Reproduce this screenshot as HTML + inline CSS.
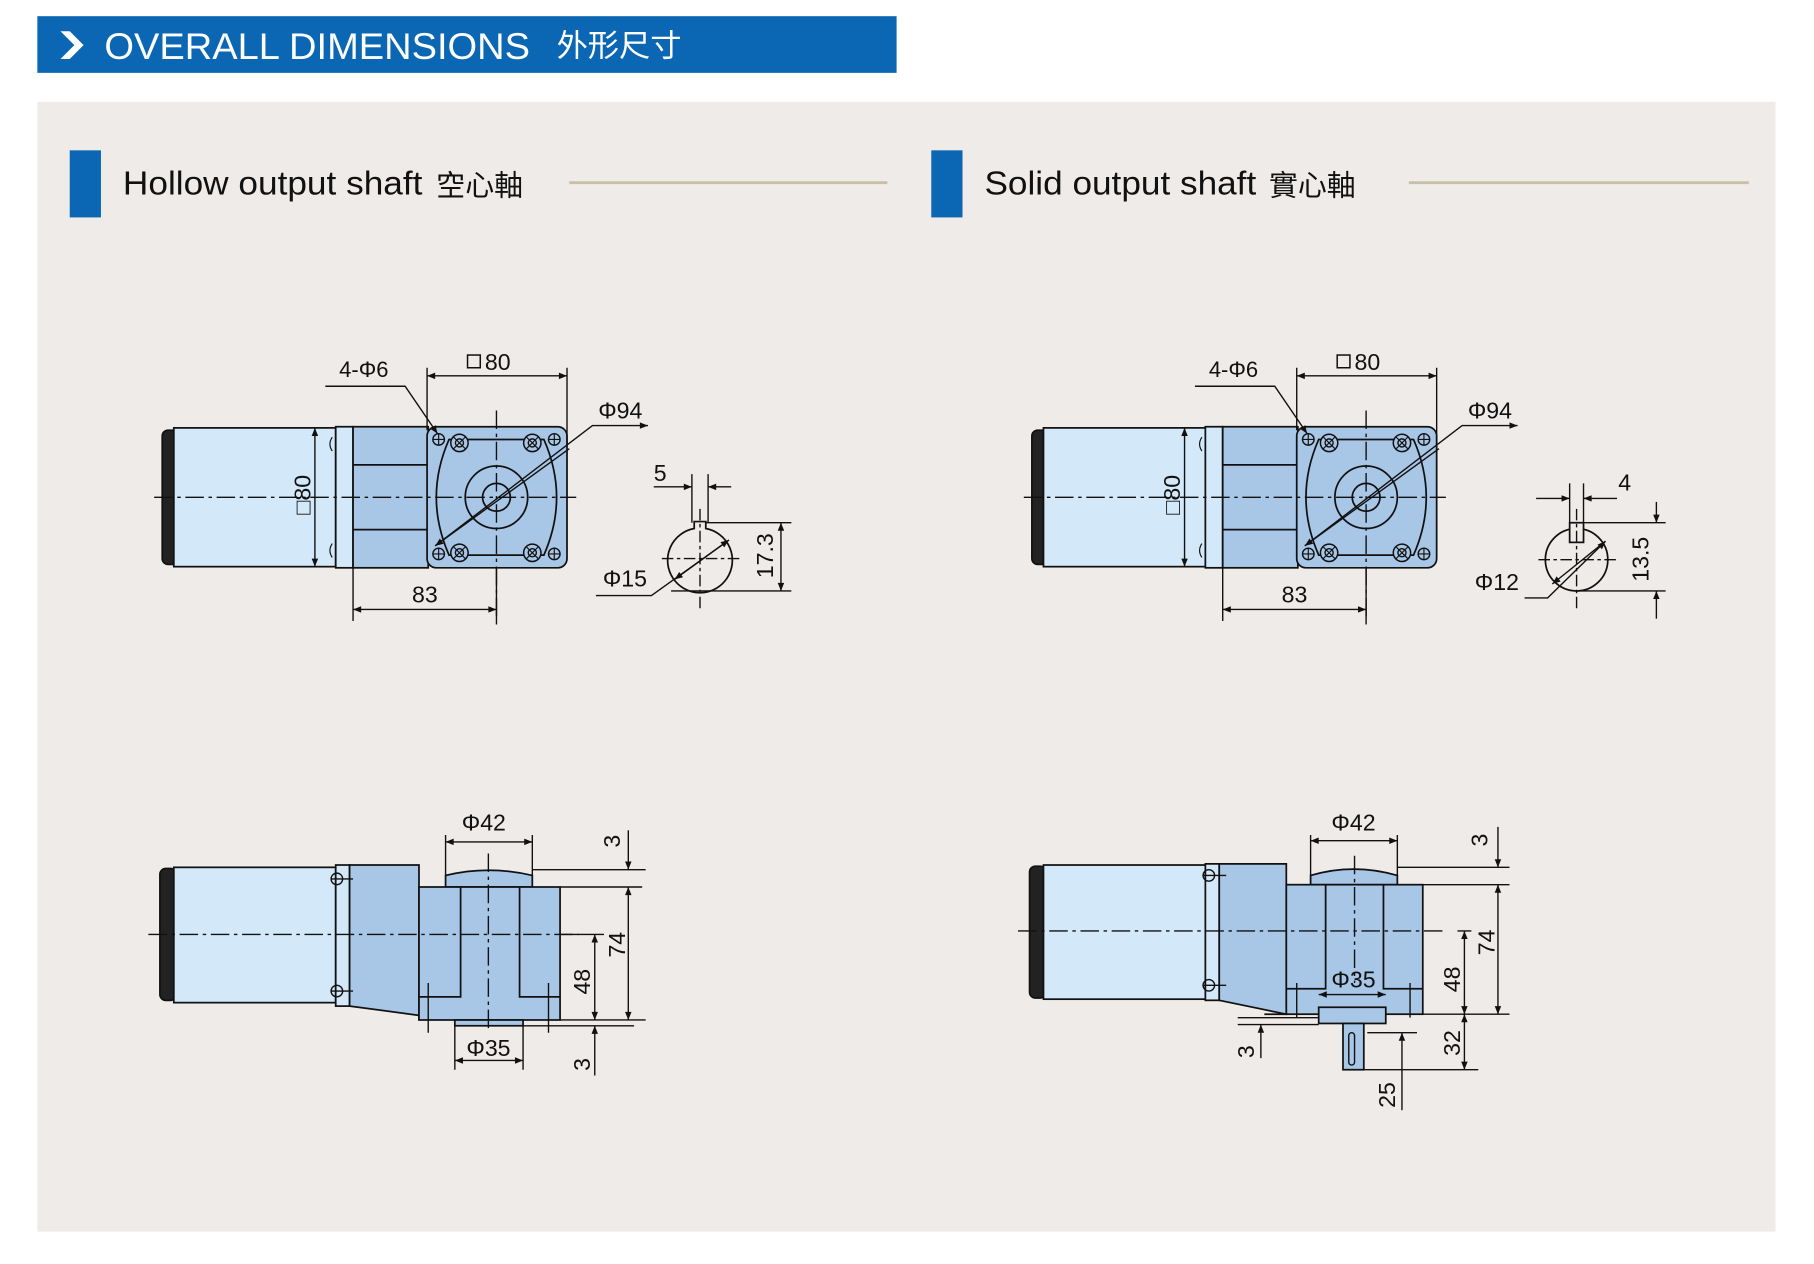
<!DOCTYPE html>
<html><head><meta charset="utf-8"><style>
html,body{margin:0;padding:0;background:#fff;}
svg{display:block;}
text{font-family:"Liberation Sans","Noto Sans CJK TC",sans-serif;fill:#111;}
</style></head><body>
<svg width="1814" height="1264" viewBox="0 0 1568 1093" xmlns="http://www.w3.org/2000/svg">
<defs>
<marker id="a" viewBox="0 0 10 10" refX="10" refY="5" markerWidth="9" markerHeight="7" orient="auto-start-reverse" markerUnits="userSpaceOnUse"><path d="M0,1 L10,5 L0,9 Z" fill="#111"/></marker>
<g id="scr"><circle r="7.5" fill="#a8c6e6" stroke="#111" stroke-width="1.3"/><circle r="3.5" fill="none" stroke="#111" stroke-width="1.2"/><path d="M-5,-5L5,5M-5,5L5,-5" stroke="#111" stroke-width="1"/></g>
<g id="hole"><circle r="5" fill="#a8c6e6" stroke="#111" stroke-width="1.2"/><path d="M-5,0H5M0,-5V5" stroke="#111" stroke-width="1"/></g>
<g id="topview" stroke="#111" stroke-width="1.5">
  <rect x="140" y="372" width="14" height="116" rx="5" fill="#222"/>
  <rect x="150" y="370" width="140" height="120" fill="#d3e8f8"/>
  <rect x="290" y="369" width="15" height="122" fill="#d3e8f8"/>
  <rect x="305" y="369" width="65" height="122" fill="#a8c6e6"/>
  <path d="M305,402H370M305,458H370" />
  <rect x="369" y="369" width="121" height="122" rx="8" fill="#a8c6e6"/>
  <path d="M388,380 Q366,430 388,480 L470,480 Q492,430 470,380 Z" fill="none"/>
  <circle cx="429" cy="430" r="27" fill="none"/>
  <circle cx="429" cy="430" r="12" fill="none"/>
  <path d="M287,378 q-4,6 0,12M287,470 q-4,6 0,12" fill="none" stroke-width="1"/>
</g>
<g id="sideview" stroke="#111" stroke-width="1.5">
  <rect x="138" y="751" width="14" height="114" rx="5" fill="#222"/>
  <rect x="150" y="750" width="140" height="117" fill="#d3e8f8"/>
  <rect x="290" y="748" width="12" height="122" fill="#d3e8f8"/>
  <path d="M302,748H362V767H362V882H362V878L302,870Z" fill="#a8c6e6"/>
  <path d="M385,767 V757 Q422,748 460,757 V767 Z" fill="#a8c6e6"/>
  <rect x="362" y="767" width="122" height="115" fill="#a8c6e6"/>
  <path d="M398,767V862H362M449,767V862H484" fill="none"/>
</g>
</defs>

<rect width="1568" height="1093" fill="#fff"/>
<rect x="32" y="88" width="1503" height="977" fill="#efebe8"/>
<rect x="32" y="14" width="743" height="49" fill="#0b67b4"/>
<path d="M52,27 L60,27 L72,39 L60,51 L52,51 L64,39 Z" fill="#fff"/>
<text x="90" y="51" font-size="32" textLength="368" lengthAdjust="spacingAndGlyphs" style="fill:#fff">OVERALL DIMENSIONS</text>
<text x="481" y="49" font-size="27" style="fill:#fff">外形尺寸</text>

<rect x="60" y="130" width="27" height="58" fill="#0b67b4"/>
<text x="106" y="168" font-size="29" textLength="259" lengthAdjust="spacingAndGlyphs">Hollow output shaft</text>
<text x="377" y="169" font-size="25">空心軸</text>
<line x1="492" y1="158" x2="767" y2="158" stroke="#c7bfa8" stroke-width="2.5"/>
<rect x="805" y="130" width="27" height="58" fill="#0b67b4"/>
<text x="851" y="168" font-size="29" textLength="235" lengthAdjust="spacingAndGlyphs">Solid output shaft</text>
<text x="1097" y="169" font-size="25">實心軸</text>
<line x1="1218" y1="158" x2="1512" y2="158" stroke="#c7bfa8" stroke-width="2.5"/>

<!-- TOP VIEWS -->
<g id="tv">
<use href="#topview"/>
<use href="#hole" x="379" y="380"/><use href="#hole" x="479" y="380"/><use href="#hole" x="379" y="479"/><use href="#hole" x="479" y="479"/>
<use href="#scr" x="397" y="383"/><use href="#scr" x="460" y="383"/><use href="#scr" x="397" y="478"/><use href="#scr" x="460" y="478"/>
<g stroke="#111" stroke-width="1.2" fill="none">
  <path d="M133,430H498" stroke-dasharray="16,4,3,4"/>
  <path d="M429,355V540" stroke-dasharray="16,4,3,4"/>
  <path d="M369,318V372M490,318V385"/>
  <path d="M369,325H490" marker-start="url(#a)" marker-end="url(#a)"/>
  <path d="M281,334H350L378,375" marker-end="url(#a)"/>
  <path d="M560,368H512L376,472" marker-start="url(#a)"/>
  <path d="M492,388L376,472" marker-end="url(#a)"/>
  <path d="M272,370V490" marker-start="url(#a)" marker-end="url(#a)"/>
  <path d="M305,490V537M429,490V537"/>
  <path d="M305,527H429" marker-start="url(#a)" marker-end="url(#a)"/>
</g>
<text x="293" y="326" font-size="19">4-Φ6</text>
<rect x="404" y="307" width="11" height="11" fill="none" stroke="#111" stroke-width="1.3"/>
<text x="419" y="320" font-size="20">80</text>
<text x="517" y="362" font-size="20">Φ94</text>
<text transform="translate(268,445) rotate(-90)" font-size="20">□80</text>
<text x="356" y="521" font-size="20">83</text>
</g>
<use href="#tv" x="752"/>

<!-- shaft section left -->
<g stroke="#111" stroke-width="1.5" fill="none">
  <path d="M600,457 A28,28 0 1 0 610,457 V451 H600 Z" fill="#efebe8"/>
</g>
<g stroke="#111" stroke-width="1.2" fill="none">
  <path d="M605,440V526M572,483H640" stroke-dasharray="10,3,3,3"/>
  <path d="M598,410V452M612,410V452"/>
  <path d="M565,421H598" marker-end="url(#a)"/><path d="M632,421H612" marker-end="url(#a)"/>
  <path d="M610,452H684M580,511H684"/>
  <path d="M675,452V511" marker-start="url(#a)" marker-end="url(#a)"/>
  <path d="M515,515H563L630,467" marker-end="url(#a)"/>
  <path d="M630,467L583,501" marker-end="url(#a)"/>
</g>
<text x="565" y="416" font-size="20">5</text>
<text transform="translate(668,500) rotate(-90)" font-size="20">17.3</text>
<text x="521" y="507" font-size="20">Φ15</text>

<!-- shaft section right -->
<g stroke="#111" stroke-width="1.5" fill="none">
  <circle cx="1363" cy="484" r="27" fill="#efebe8"/>
  <rect x="1357" y="452" width="12" height="17" fill="#efebe8"/>
</g>
<g stroke="#111" stroke-width="1.2" fill="none">
  <path d="M1363,440V526M1330,484H1400" stroke-dasharray="10,3,3,3"/>
  <path d="M1357,418V452M1369,418V452"/>
  <path d="M1328,431H1357" marker-end="url(#a)"/><path d="M1398,431H1369" marker-end="url(#a)"/>
  <path d="M1369,452H1440M1363,511H1440"/>
  <path d="M1432,434V452" marker-end="url(#a)"/><path d="M1432,535V511" marker-end="url(#a)"/>
  <path d="M1318,517H1338L1388,468" marker-end="url(#a)"/>
  <path d="M1388,468L1342,505" marker-end="url(#a)"/>
</g>
<text x="1399" y="424" font-size="20">4</text>
<text transform="translate(1425,503) rotate(-90)" font-size="20">13.5</text>
<text x="1275" y="510" font-size="20">Φ12</text>

<!-- SIDE VIEW LEFT -->
<use href="#sideview"/>
<g stroke="#111" stroke-width="1.2" fill="none">
  <rect x="393" y="882" width="59" height="5" fill="#a8c6e6" stroke-width="1.5"/>
  <path d="M128,808H500" stroke-dasharray="16,4,3,4"/>
  <path d="M422,738V892" stroke-dasharray="16,4,3,4"/>
  <path d="M370,850V893M474,850V893"/>
  <path d="M286,760H305M286,857H305"/>
  <circle cx="291" cy="760" r="5"/><circle cx="291" cy="857" r="5"/>
  <path d="M385,722V757M460,722V757"/>
  <path d="M385,728H460" marker-start="url(#a)" marker-end="url(#a)"/>
  <path d="M460,752H558M484,767H555M484,882H558M452,887H548M484,808H522"/>
  <path d="M543,718V752" marker-end="url(#a)"/>
  <path d="M543,767V882" marker-start="url(#a)" marker-end="url(#a)"/>
  <path d="M514,808V882" marker-start="url(#a)" marker-end="url(#a)"/>
  <path d="M514,930V887" marker-end="url(#a)"/>
  <path d="M393,887V925M452,887V925"/>
  <path d="M393,917H452" marker-start="url(#a)" marker-end="url(#a)"/>
</g>
<text x="399" y="718" font-size="20">Φ42</text>
<text transform="translate(536,733) rotate(-90)" font-size="20">3</text>
<text transform="translate(540,828) rotate(-90)" font-size="20">74</text>
<text transform="translate(510,860) rotate(-90)" font-size="20">48</text>
<text transform="translate(510,926) rotate(-90)" font-size="20">3</text>
<text x="403" y="913" font-size="20">Φ35</text>

<!-- SIDE VIEW RIGHT -->
<g stroke="#111" stroke-width="1.5">
  <rect x="890" y="749" width="14" height="114" rx="5" fill="#222"/>
  <rect x="902" y="748" width="140" height="116" fill="#d3e8f8"/>
  <rect x="1042" y="747" width="12" height="118" fill="#d3e8f8"/>
  <path d="M1054,747H1112V877L1054,865Z" fill="#a8c6e6"/>
  <path d="M1133,765V757 Q1170,746 1208,757V765Z" fill="#a8c6e6"/>
  <rect x="1112" y="765" width="118" height="112" fill="#a8c6e6"/>
  <rect x="1140" y="871" width="58" height="14" fill="#a8c6e6"/>
  <rect x="1161" y="885" width="18" height="40" fill="#a8c6e6"/>
  <path d="M1146,765V855H1112M1196,765V855H1230M1093,877L1112,877" fill="none"/>
  <rect x="1166" y="893" width="5" height="28" rx="2.5" fill="none" stroke-width="1.2"/>
</g>
<g stroke="#111" stroke-width="1.2" fill="none">
  <path d="M880,805H1250" stroke-dasharray="16,4,3,4"/>
  <path d="M1171,740V850" stroke-dasharray="16,4,3,4"/>
  <path d="M1040,757H1060M1040,852H1060"/>
  <circle cx="1045" cy="757" r="5"/><circle cx="1045" cy="852" r="5"/>
  <path d="M1121,850V880M1219,850V880"/>
  <path d="M1133,722V757M1208,722V757"/>
  <path d="M1133,727H1208" marker-start="url(#a)" marker-end="url(#a)"/>
  <path d="M1208,750H1305M1230,765H1305M1230,877H1305M1260,805H1272M1070,880H1140M1070,886H1140M1182,893H1225M1165,925H1278"/>
  <path d="M1295,715V750" marker-end="url(#a)"/>
  <path d="M1295,765V877" marker-start="url(#a)" marker-end="url(#a)"/>
  <path d="M1266,805V877" marker-start="url(#a)" marker-end="url(#a)"/>
  <path d="M1266,877V925" marker-start="url(#a)" marker-end="url(#a)"/>
  <path d="M1090,915V886" marker-end="url(#a)"/>
  <path d="M1212,893V925" marker-start="url(#a)"/>
  <path d="M1212,925V960"/>
  <path d="M1140,860H1198" marker-start="url(#a)" marker-end="url(#a)"/>
</g>
<text x="1151" y="718" font-size="20">Φ42</text>
<text transform="translate(1286,732) rotate(-90)" font-size="20">3</text>
<text transform="translate(1292,826) rotate(-90)" font-size="20">74</text>
<text transform="translate(1262,858) rotate(-90)" font-size="20">48</text>
<text transform="translate(1262,913) rotate(-90)" font-size="20">32</text>
<text transform="translate(1084,915) rotate(-90)" font-size="20">3</text>
<text transform="translate(1206,958) rotate(-90)" font-size="20">25</text>
<text x="1151" y="854" font-size="20">Φ35</text>
</svg>
</body></html>
